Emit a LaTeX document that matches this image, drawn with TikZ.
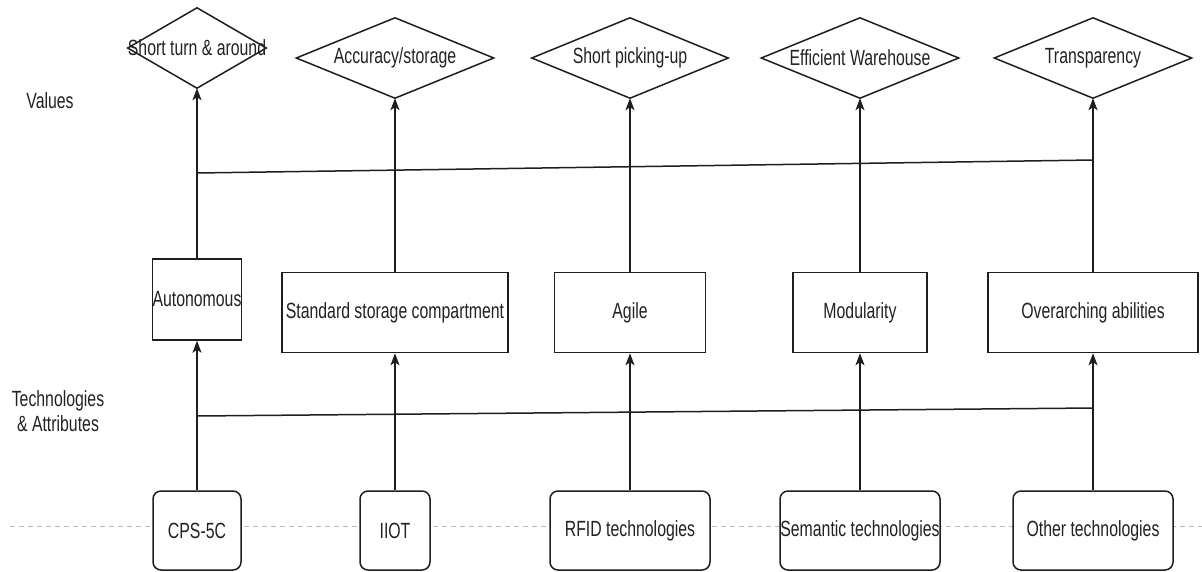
\documentclass[tikz,border=0pt]{standalone}
\usepackage{fontspec}
\setmainfont{Liberation Sans}[FakeStretch=0.72]
\usetikzlibrary{arrows.meta}
\definecolor{txt}{HTML}{222222}
\definecolor{ln}{HTML}{1E1E1E}
\begin{document}
\begin{tikzpicture}[x=1pt,y=-1pt,
  font=\fontsize{22}{25}\selectfont,
  valnode/.style={rectangle, inner sep=0pt, minimum height=80pt, text=txt},
  attrbox/.style={rectangle, draw=ln, line width=1.5pt, fill=white, inner sep=0pt, minimum height=80pt, text=txt},
  techbox/.style={rectangle, rounded corners=8pt, draw=ln, line width=1.5pt, fill=white, inner sep=0pt, minimum height=79pt, text=txt},
  lbl/.style={text=txt, inner sep=0pt, align=center},
  conn/.style={draw=ln, line width=1.5pt},
  arr/.style={conn, -{Stealth[length=12pt,width=9pt,inset=3pt]}},
  sep/.style={draw=gray!55, line width=1pt, dash pattern=on 5pt off 4pt}
]
\useasboundingbox (0,0) rectangle (1202,571);

% side labels
\node[lbl] (values) at (50,101) {Values};
\node[lbl] (techattr) at (58,411) {Technologies\\ \& Attributes};

% dashed separator
\coordinate (sepL) at (10,526);
\coordinate (sepR) at (1202,526);
\draw[sep] (sepL) -- (sepR);

% value diamonds
\node[valnode, minimum width=125pt] (d1) at (197,48) {Short turn \& around};
\node[valnode, minimum width=197pt] (d2) at (395,58) {Accuracy/storage};
\node[valnode, minimum width=196pt] (d3) at (630,58) {Short picking-up};
\node[valnode, minimum width=197pt] (d4) at (860,58) {Efficient Warehouse};
\node[valnode, minimum width=197pt] (d5) at (1093,58) {Transparency};
\foreach \n in {d1,d2,d3,d4,d5}
  \draw[conn] (\n.north) -- (\n.east) -- (\n.south) -- (\n.west) -- cycle;

% attribute boxes
\node[attrbox, minimum width=88pt, minimum height=81pt] (auto) at (197,299.5) {Autonomous};
\node[attrbox, minimum width=226pt] (std) at (395,312.5) {Standard storage compartment};
\node[attrbox, minimum width=151pt] (agile) at (630,312.5) {Agile};
\node[attrbox, minimum width=134pt] (mod) at (860,312.5) {Modularity};
\node[attrbox, minimum width=210pt] (over) at (1093,312.5) {Overarching abilities};

% technology boxes
\node[techbox, minimum width=88pt] (cps) at (197,530.5) {CPS-5C};
\node[techbox, minimum width=70pt] (iiot) at (395,530.5) {IIOT};
\node[techbox, minimum width=160pt] (rfid) at (630,530.5) {RFID technologies};
\node[techbox, minimum width=160pt] (sem) at (860,530.5) {Semantic technologies};
\node[techbox, minimum width=160pt] (other) at (1093,530.5) {Other technologies};

% horizontal links
\coordinate (upL) at (197,173);
\coordinate (upR) at (1093,160);
\coordinate (loL) at (197,416);
\coordinate (loR) at (1093,408);
\draw[conn] (upL) -- (upR);
\draw[conn] (loL) -- (loR);

% vertical connectors
\draw[arr] (cps.north) -- (auto.south);
\draw[arr] (auto.north) -- (d1.south);
\draw[arr] (iiot.north) -- (std.south);
\draw[arr] (std.north) -- (d2.south);
\draw[arr] (rfid.north) -- (agile.south);
\draw[arr] (agile.north) -- (d3.south);
\draw[arr] (sem.north) -- (mod.south);
\draw[arr] (mod.north) -- (d4.south);
\draw[arr] (other.north) -- (over.south);
\draw[arr] (over.north) -- (d5.south);
\end{tikzpicture}
\end{document}
